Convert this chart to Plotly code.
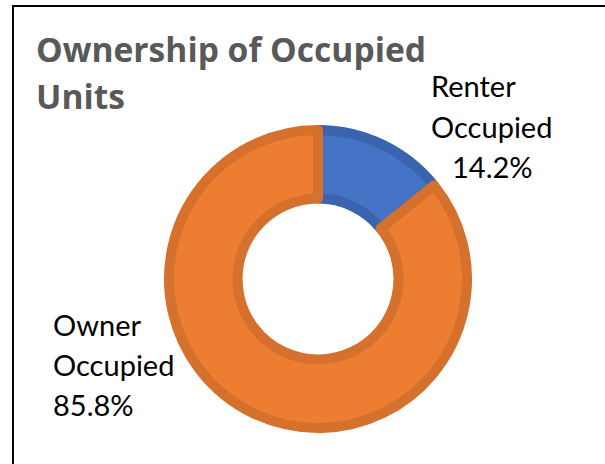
import plotly.graph_objects as go

labels = ["Renter Occupied", "Owner Occupied"]
values = [14.2, 85.8]
fill_colors = ["#4472C4", "#ED7D31"]
line_colors = ["#3B64AE", "#D5702D"]
title_lines = ["Ownership of Occupied", "Units"]

W, H = 605, 464
cx, cy, r = 318, 279, 149

fig = go.Figure(go.Pie(
    labels=labels, values=values, sort=False, direction="clockwise", rotation=0,
    hole=0.54, textinfo="none", hoverinfo="label+percent",
    marker=dict(colors=fill_colors, line=dict(color=line_colors, width=10)),
    domain=dict(x=[(cx - r) / W, (cx + r) / W], y=[(H - cy - r) / H, (H - cy + r) / H]),
    showlegend=False,
))

font = "Lato, 'Open Sans', sans-serif"
tfont = "'Open Sans', Lato, sans-serif"
FS = 29

def pct(v):
    return f"{v:.1f}%"

def ann(x, y, text, xanchor="left", **f):
    fig.add_annotation(x=x / W, y=1 - y / H, xref="paper", yref="paper", text=text,
                       showarrow=False, xanchor=xanchor, yanchor="middle",
                       font=dict(family=font, size=FS, color="#000000") | f)

# Title
for i, t in enumerate(title_lines):
    fig.add_annotation(x=34 / W, y=1 - (49 + 47 * i) / H, xref="paper", yref="paper",
                       text=t, showarrow=False, xanchor="left", yanchor="middle",
                       font=dict(family=tfont, size=33.6, color="#595959", weight="bold"))

# Renter label
rw = labels[0].split(" ")
ann(429, 86, rw[0])
ann(429, 126, rw[1])
ann(492, 166, pct(values[0]), xanchor="center")

# Owner label
ow = labels[1].split(" ")
ann(51, 324, ow[0])
ann(51, 364, ow[1])
ann(51, 404, pct(values[1]))

fig.update_layout(
    width=W, height=H, margin=dict(l=0, r=0, t=0, b=0),
    paper_bgcolor="white", plot_bgcolor="white",
    shapes=[dict(type="rect", xref="paper", yref="paper",
                 x0=13 / W, x1=1.05, y0=-0.05, y1=1 - 6 / H,
                 line=dict(color="black", width=2), fillcolor="rgba(0,0,0,0)")],
)

fig.write_html("out.html", config={"displayModeBar": False},
               post_script="document.body.style.margin='0';")
